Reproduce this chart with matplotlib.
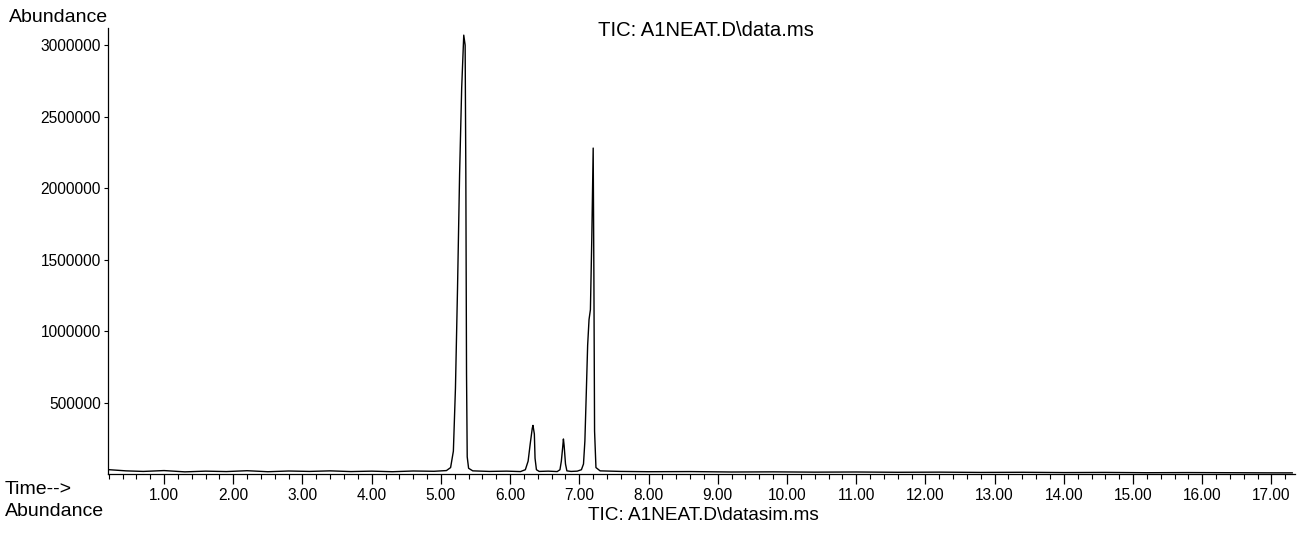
import matplotlib
matplotlib.use("Agg")
import matplotlib.pyplot as plt
from matplotlib.ticker import MultipleLocator, FixedLocator, FuncFormatter

# TIC trace (retention time in min, abundance)
time_min = [0.21, 0.45, 0.70, 1.00, 1.30, 1.60, 1.90, 2.20, 2.50, 2.80, 3.10,
            3.40, 3.70, 4.00, 4.30, 4.60, 4.90, 5.08, 5.14, 5.18, 5.21, 5.24,
            5.27, 5.30, 5.33, 5.35, 5.36, 5.37, 5.38, 5.40, 5.46, 5.70, 5.95,
            6.15, 6.22, 6.26, 6.29, 6.32, 6.33, 6.35, 6.36, 6.38, 6.42, 6.55,
            6.68, 6.72, 6.74, 6.76, 6.77, 6.78, 6.80, 6.82, 6.88, 6.97, 7.03,
            7.06, 7.08, 7.10, 7.12, 7.14, 7.16, 7.18, 7.20, 7.21, 7.22, 7.24,
            7.30, 7.60, 8.00, 8.60, 9.20, 9.80, 10.40, 11.00, 11.60, 12.20,
            12.80, 13.40, 14.00, 14.60, 15.20, 15.80, 16.40, 17.00, 17.30]
abundance = [30000, 22000, 18000, 24000, 15000, 20000, 17000, 23000, 16000,
             21000, 18000, 22000, 17000, 20000, 16000, 21000, 19000, 24000,
             45000, 160000, 600000, 1300000, 2100000, 2700000, 3070000,
             3000000, 2100000, 700000, 120000, 40000, 22000, 18000, 20000,
             17000, 30000, 90000, 210000, 320000, 340000, 280000, 110000,
             30000, 18000, 20000, 17000, 30000, 90000, 190000, 245000, 200000,
             70000, 22000, 18000, 20000, 30000, 70000, 230000, 560000, 900000,
             1080000, 1150000, 1650000, 2280000, 1400000, 300000, 45000,
             22000, 18000, 16000, 17000, 14000, 15000, 13000, 14000, 12000,
             13000, 11000, 12000, 10000, 11000, 9000, 10000, 9000, 8000, 8000]

y_ticks = [500000, 1000000, 1500000, 2000000, 2500000, 3000000]

fig = plt.figure(figsize=(13.03, 5.39), dpi=100)
ax = fig.add_axes([108 / 1303, (539 - 474) / 539, 1187 / 1303, 446 / 539])

ax.plot(time_min, abundance, color="black", lw=1.0)

ax.set_xlim(0.19, 17.34)
ax.set_ylim(0, 3.12e6)

for s in ("top", "right"):
    ax.spines[s].set_visible(False)
for s in ("left", "bottom"):
    ax.spines[s].set_linewidth(0.9)

sans = ["Liberation Sans", "DejaVu Sans"]

ax.xaxis.set_major_locator(MultipleLocator(1.0))
ax.xaxis.set_minor_locator(MultipleLocator(0.2))
ax.xaxis.set_major_formatter(FuncFormatter(lambda v, p: "%.2f" % v))
ax.yaxis.set_major_locator(FixedLocator(y_ticks))
ax.yaxis.set_major_formatter(FuncFormatter(lambda v, p: "%d" % v))
ax.tick_params(axis="x", which="major", length=7, width=0.9, pad=3)
ax.tick_params(axis="x", which="minor", length=3.5, width=0.8)
ax.tick_params(axis="y", which="major", length=3, width=0.8, pad=2)
for lab in ax.get_xticklabels() + ax.get_yticklabels():
    lab.set_family(sans)
    lab.set_fontsize(11.2)

fig.text(108 / 1303, 1 - 17 / 539, "Abundance", ha="right", va="center",
         family=sans, fontsize=14)
fig.text(706 / 1303, 1 - 30 / 539, "TIC: A1NEAT.D\\data.ms", ha="center",
         va="center", family=sans, fontsize=14.6)
fig.text(5 / 1303, 1 - 490 / 539, "Time-->", ha="left", va="center",
         family=sans, fontsize=14)
fig.text(5 / 1303, 1 - 512 / 539, "Abundance", ha="left", va="center",
         family=sans, fontsize=14)
fig.text(703 / 1303, 1 - 515 / 539, "TIC: A1NEAT.D\\datasim.ms", ha="center",
         va="center", family=sans, fontsize=13.7)

fig.savefig("out.png", dpi=100)
